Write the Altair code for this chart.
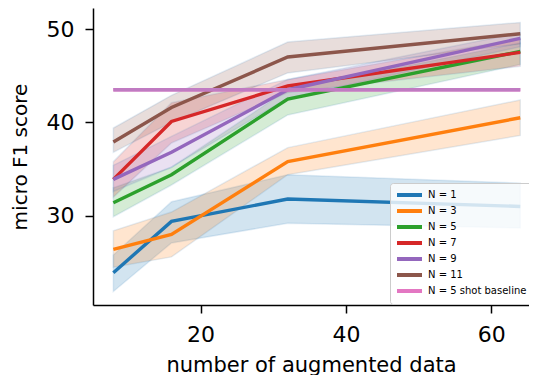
import altair as alt
import pandas as pd

xs = [8, 16, 32, 64]
series = ["N = 1", "N = 3", "N = 5", "N = 7", "N = 9", "N = 11", "N = 5 shot baseline"]
colors = ["#1f77b4", "#ff7f0e", "#2ca02c", "#d62728", "#9467bd", "#8c564b", "#e377c2"]
baseline_line_color = "#c07bc2"

means = {
    "N = 1": [23.9, 29.4, 31.8, 31.0],
    "N = 3": [26.4, 28.0, 35.8, 40.5],
    "N = 5": [31.4, 34.4, 42.5, 47.6],
    "N = 7": [33.9, 40.1, 43.9, 47.5],
    "N = 9": [33.9, 36.8, 43.5, 49.0],
    "N = 11": [37.9, 41.6, 47.0, 49.5],
}
lows = {
    "N = 1": [21.9, 27.1, 29.2, 28.7],
    "N = 3": [24.5, 25.6, 34.4, 38.6],
    "N = 5": [29.9, 33.3, 40.8, 46.2],
    "N = 7": [32.0, 37.8, 43.2, 46.0],
    "N = 9": [32.6, 35.2, 42.6, 48.1],
    "N = 11": [36.8, 40.0, 45.3, 48.4],
}
highs = {
    "N = 1": [25.8, 31.5, 34.4, 33.5],
    "N = 3": [28.4, 30.4, 37.3, 42.4],
    "N = 5": [33.0, 35.2, 43.5, 48.5],
    "N = 7": [35.8, 42.1, 44.6, 49.0],
    "N = 9": [35.4, 38.5, 44.6, 49.6],
    "N = 11": [39.4, 42.9, 48.6, 50.7],
}
baseline_x = [8, 64]
baseline_y = [43.5, 43.5]

rows = []
for i, s in enumerate(series[:-1]):
    for j, x in enumerate(xs):
        rows.append({"x": x, "series": s, "order": i, "mean": means[s][j],
                     "lo": lows[s][j], "hi": highs[s][j]})
for x, y in zip(baseline_x, baseline_y):
    rows.append({"x": x, "series": series[-1], "order": 6, "mean": y, "lo": y, "hi": y})
df = pd.DataFrame(rows)

font = "DejaVu Sans"
xscale = alt.Scale(domain=[5.2, 65.2], nice=False, zero=False)
yscale = alt.Scale(domain=[20.45, 52.25], nice=False, zero=False)
cscale = alt.Scale(domain=series, range=colors)

axis_common = dict(grid=False, labelFontSize=22, labelFont=font, titleFont=font,
                   domainColor="black", domainWidth=1.5, tickColor="black", tickWidth=1.5,
                   tickSize=8, labelColor="black", titleColor="black", titleFontWeight="normal")
xaxis = alt.Axis(values=[20, 40, 60], title="number of augmented data", titleFontSize=21,
                 labelPadding=11, titlePadding=9, **axis_common)
yaxis = alt.Axis(values=[30, 40, 50], title="micro F1 score", titleFontSize=20,
                 labelPadding=11, titlePadding=16, **axis_common)

legend = alt.Legend(title=None, orient="none", legendX=297, legendY=175,
                    symbolType="M-1,0L4,0", symbolStrokeWidth=4,
                    symbolSize=100, labelFontSize=10, labelFont=font,
                    labelColor="black", rowPadding=0, labelOffset=19,
                    padding=5, strokeColor="#cccccc", fillColor="rgba(255,255,255,0.8)",
                    cornerRadius=3, symbolOpacity=1)

base = alt.Chart(df)

bands = base.transform_filter(alt.datum.order < 6).mark_area(
    fillOpacity=0.2, stroke="#1f77b4", strokeOpacity=0.12, strokeWidth=1.5
).encode(
    x=alt.X("x:Q", scale=xscale, axis=xaxis),
    y=alt.Y("lo:Q", scale=yscale, axis=yaxis),
    y2="hi:Q",
    color=alt.Color("series:N", scale=cscale, sort=series, legend=legend),
    detail="series:N",
)

lines = base.mark_line(strokeWidth=3.4).encode(
    x=alt.X("x:Q", scale=xscale, axis=xaxis),
    y=alt.Y("mean:Q", scale=yscale, axis=yaxis),
    color=alt.Color("series:N", scale=cscale, sort=series, legend=legend),
    order="order:Q",
)

baseline_overlay = base.transform_filter(alt.datum.order == 6).mark_line(
    strokeWidth=3.6, color=baseline_line_color
).encode(
    x=alt.X("x:Q", scale=xscale, axis=xaxis),
    y=alt.Y("mean:Q", scale=yscale, axis=yaxis),
)

chart = alt.layer(bands, lines, baseline_overlay).properties(
    width=436, height=297,
    autosize=alt.AutoSizeParams(type="none"),
    padding={"left": 85, "top": 0, "right": 0, "bottom": 70},
).configure_view(stroke=None)

chart.save("out.html", embed_options={"renderer": "svg", "actions": False})
